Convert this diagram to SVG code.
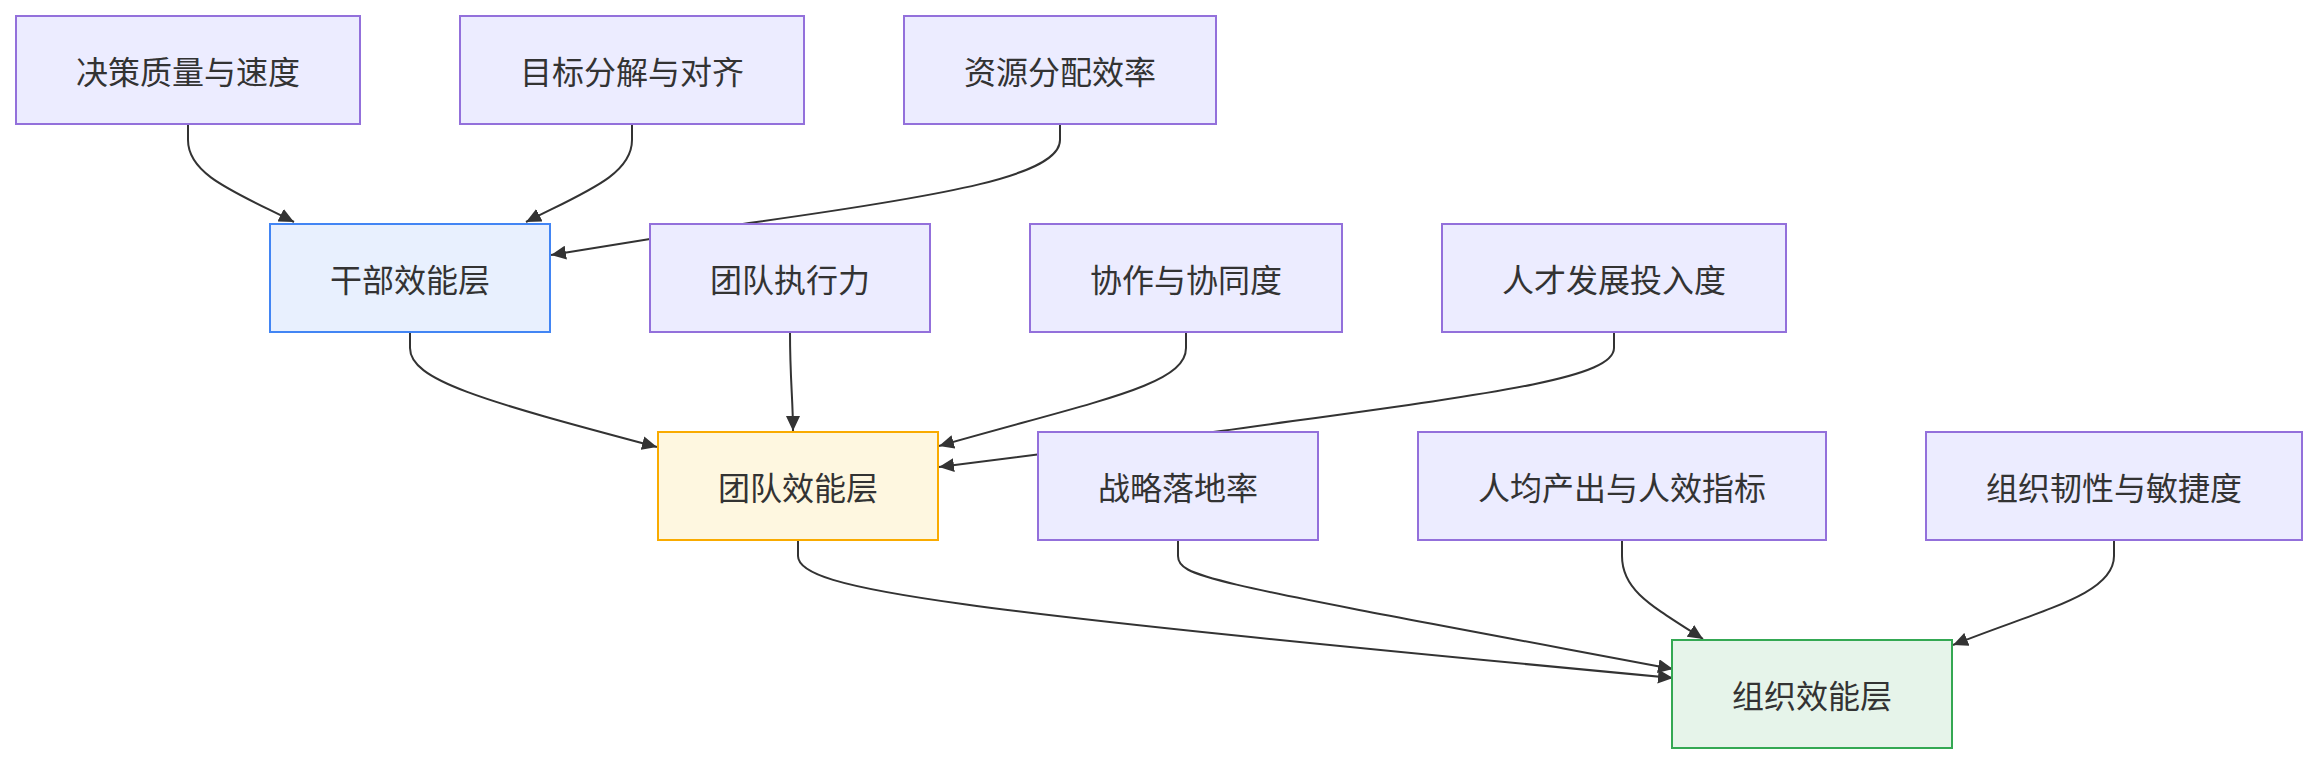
<svg xmlns="http://www.w3.org/2000/svg" width="2318" height="764" viewBox="0 0 2318 764">
<style>
.node rect{fill:#ECECFF;stroke:#9370DB;stroke-width:2}
.node text{font-family:"Noto Sans CJK SC","Noto Sans",sans-serif;font-size:32px;fill:#333;text-anchor:middle;dominant-baseline:central}
.blue rect{fill:#E8F0FE;stroke:#4285F4}
.orange rect{fill:#FEF7E0;stroke:#F9AB00}
.green rect{fill:#E6F4EA;stroke:#34A853}
.edges path{fill:none;stroke:#333;stroke-width:2;marker-end:url(#arrow)}
</style>
<defs>
<marker id="arrow" markerUnits="userSpaceOnUse" markerWidth="16" markerHeight="14" refX="15" refY="7" orient="auto">
<path d="M0,0 L15,7 L0,14 z" fill="#333"/>
</marker>
</defs>
<rect width="2318" height="764" fill="#fff"/>
<g class="edges">
<path d="M188,124 L188,140 C188,175 235,192 294,222"/>
<path d="M632,124 L632,140 C632,175 585,192 526,222"/>
<path d="M1060,124 L1060,140 C1060,175 950,195 749,223 L551,255"/>
<path d="M410,332 L410,348 C410,380 480,400 657,447"/>
<path d="M790,332 C790,380 793,400 793,431"/>
<path d="M1186,332 L1186,348 C1186,385 1100,400 939,446"/>
<path d="M1614,332 L1614,348 C1614,380 1480,395 1221,431 L939,467"/>
<path d="M798,540 L798,556 C798,590 950,610 1673,678"/>
<path d="M1178,540 L1178,556 C1178,578 1210,582 1673,669"/>
<path d="M1622,540 L1622,556 C1622,590 1650,605 1703,639"/>
<path d="M2114,540 L2114,556 C2114,595 2040,610 1953,645"/>
</g>
<g id="n1" class="node"><rect x="16" y="16" width="344" height="108"/><text x="188" y="70">决策质量与速度</text></g>
<g id="n2" class="node"><rect x="460" y="16" width="344" height="108"/><text x="632" y="70">目标分解与对齐</text></g>
<g id="n3" class="node"><rect x="904" y="16" width="312" height="108"/><text x="1060" y="70">资源分配效率</text></g>
<g id="n4" class="node blue"><rect x="270" y="224" width="280" height="108"/><text x="410" y="278">干部效能层</text></g>
<g id="n5" class="node"><rect x="650" y="224" width="280" height="108"/><text x="790" y="278">团队执行力</text></g>
<g id="n6" class="node"><rect x="1030" y="224" width="312" height="108"/><text x="1186" y="278">协作与协同度</text></g>
<g id="n7" class="node"><rect x="1442" y="224" width="344" height="108"/><text x="1614" y="278">人才发展投入度</text></g>
<g id="n8" class="node orange"><rect x="658" y="432" width="280" height="108"/><text x="798" y="486">团队效能层</text></g>
<g id="n9" class="node"><rect x="1038" y="432" width="280" height="108"/><text x="1178" y="486">战略落地率</text></g>
<g id="n10" class="node"><rect x="1418" y="432" width="408" height="108"/><text x="1622" y="486">人均产出与人效指标</text></g>
<g id="n11" class="node"><rect x="1926" y="432" width="376" height="108"/><text x="2114" y="486">组织韧性与敏捷度</text></g>
<g id="n12" class="node green"><rect x="1672" y="640" width="280" height="108"/><text x="1812" y="694">组织效能层</text></g>
</svg>
